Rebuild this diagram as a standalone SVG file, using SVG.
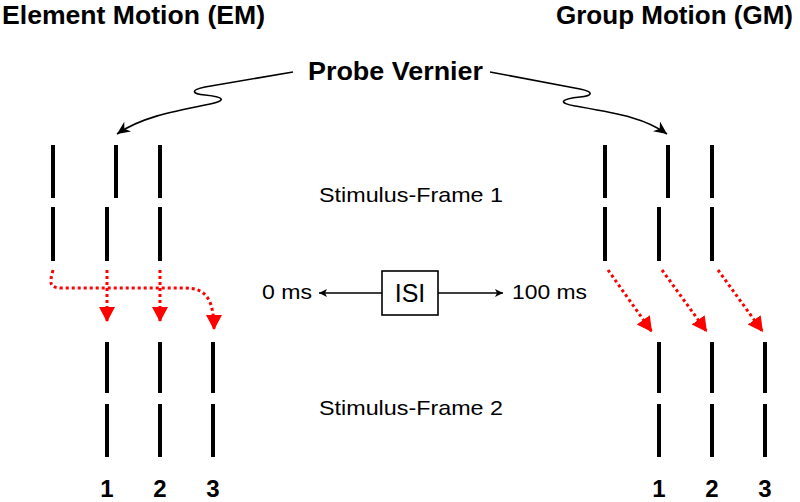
<svg xmlns="http://www.w3.org/2000/svg" width="800" height="502" viewBox="0 0 800 502">
<style>
.bar{stroke:#000;stroke-width:4;fill:none}
.t{font-family:"Liberation Sans",Arial,sans-serif;fill:#000}
.b{font-weight:bold}
.red{stroke:#ff0000;stroke-width:3;fill:none;stroke-dasharray:3 3}
.blk{stroke:#000;stroke-width:1.6;fill:none}
</style>
<defs>
<marker id="ra" markerUnits="userSpaceOnUse" markerWidth="20" markerHeight="20" refX="15" refY="8" orient="auto">
<path d="M0,0 L15,8 L0,16 Z" fill="#ff0000"/>
</marker>
<marker id="ba" markerUnits="userSpaceOnUse" markerWidth="16" markerHeight="14" refX="13" refY="6" orient="auto">
<path d="M0,0 L13,6 L0,12 L4,6 Z" fill="#000"/>
</marker>
<marker id="sa" markerUnits="userSpaceOnUse" markerWidth="10" markerHeight="10" refX="8" refY="4" orient="auto">
<path d="M0,0 L8,4 L0,8 L2,4 Z" fill="#000"/>
</marker>
</defs>

<g id="title-em"><text class="t b" x="2" y="24" font-size="25" textLength="263" lengthAdjust="spacingAndGlyphs">Element Motion (EM)</text></g>
<g id="title-gm"><text class="t b" x="793" y="24" font-size="25" text-anchor="end" textLength="237" lengthAdjust="spacingAndGlyphs">Group Motion (GM)</text></g>
<g id="probe"><text class="t b" x="308" y="80" font-size="25" textLength="175" lengthAdjust="spacingAndGlyphs">Probe Vernier</text></g>

<g id="em-frame1">
<line class="bar" x1="53" y1="145" x2="53" y2="198"/>
<line class="bar" x1="116" y1="145" x2="116" y2="198"/>
<line class="bar" x1="160" y1="145" x2="160" y2="198"/>
<line class="bar" x1="53" y1="207" x2="53" y2="261"/>
<line class="bar" x1="107" y1="207" x2="107" y2="261"/>
<line class="bar" x1="160" y1="207" x2="160" y2="261"/>
</g>
<g id="em-frame2">
<line class="bar" x1="107" y1="342" x2="107" y2="393"/>
<line class="bar" x1="160" y1="342" x2="160" y2="393"/>
<line class="bar" x1="213" y1="342" x2="213" y2="393"/>
<line class="bar" x1="107" y1="404" x2="107" y2="457"/>
<line class="bar" x1="160" y1="404" x2="160" y2="457"/>
<line class="bar" x1="213" y1="404" x2="213" y2="457"/>
</g>
<g id="gm-frame1">
<line class="bar" x1="605" y1="145" x2="605" y2="198"/>
<line class="bar" x1="668" y1="145" x2="668" y2="198"/>
<line class="bar" x1="712" y1="145" x2="712" y2="198"/>
<line class="bar" x1="605" y1="207" x2="605" y2="261"/>
<line class="bar" x1="659" y1="207" x2="659" y2="261"/>
<line class="bar" x1="712" y1="207" x2="712" y2="261"/>
</g>
<g id="gm-frame2">
<line class="bar" x1="659" y1="342" x2="659" y2="393"/>
<line class="bar" x1="712" y1="342" x2="712" y2="393"/>
<line class="bar" x1="765" y1="342" x2="765" y2="393"/>
<line class="bar" x1="659" y1="404" x2="659" y2="457"/>
<line class="bar" x1="712" y1="404" x2="712" y2="457"/>
<line class="bar" x1="765" y1="404" x2="765" y2="457"/>
</g>

<g id="frame-labels">
<text class="t" x="319" y="202" font-size="21" textLength="184" lengthAdjust="spacingAndGlyphs">Stimulus-Frame 1</text>
<text class="t" x="319" y="415" font-size="21" textLength="184" lengthAdjust="spacingAndGlyphs">Stimulus-Frame 2</text>
</g>

<g id="isi">
<rect x="382" y="271" width="56" height="44" fill="#fff" stroke="#000" stroke-width="1.6"/>
<text class="t" x="410" y="302" font-size="25" text-anchor="middle">ISI</text>
</g>
<g id="isi-labels">
<text class="t" x="262" y="299" font-size="20" textLength="50" lengthAdjust="spacingAndGlyphs">0 ms</text>
<text class="t" x="512" y="299" font-size="20" textLength="75" lengthAdjust="spacingAndGlyphs">100 ms</text>
</g>

<g id="numbers" class="t b" font-size="24" text-anchor="middle">
<text x="107" y="497">1</text><text x="160" y="497">2</text><text x="213" y="497">3</text>
<text x="659" y="497">1</text><text x="712" y="497">2</text><text x="765" y="497">3</text>
</g>

<g id="connectors">
<path class="blk" marker-end="url(#ba)" d="M293,72 L205,87 C190,90 192,94 205,95 C225,97 228,101 205,105 C170,112 140,118 117,134"/>
<path class="blk" marker-end="url(#ba)" d="M490,72 L580,89 C595,92 592,96 580,97 C560,99 558,103 575,106 C620,114 645,118 667,134"/>
<line class="blk" x1="382" y1="293" x2="319" y2="293" marker-end="url(#sa)"/>
<line class="blk" x1="438" y1="293" x2="503" y2="293" marker-end="url(#sa)"/>
<path class="red" marker-end="url(#ra)" d="M53,270 C50,282 48,288 62,288 L185,288 C205,288 214,298 214,330"/>
<path class="red" marker-end="url(#ra)" d="M107,270 L107,322"/>
<path class="red" marker-end="url(#ra)" d="M160,270 L160,322"/>
<path class="red" marker-end="url(#ra)" d="M608,270 L652,332"/>
<path class="red" marker-end="url(#ra)" d="M662,270 L707,332"/>
<path class="red" marker-end="url(#ra)" d="M718,270 L763,332"/>
</g>
</svg>
